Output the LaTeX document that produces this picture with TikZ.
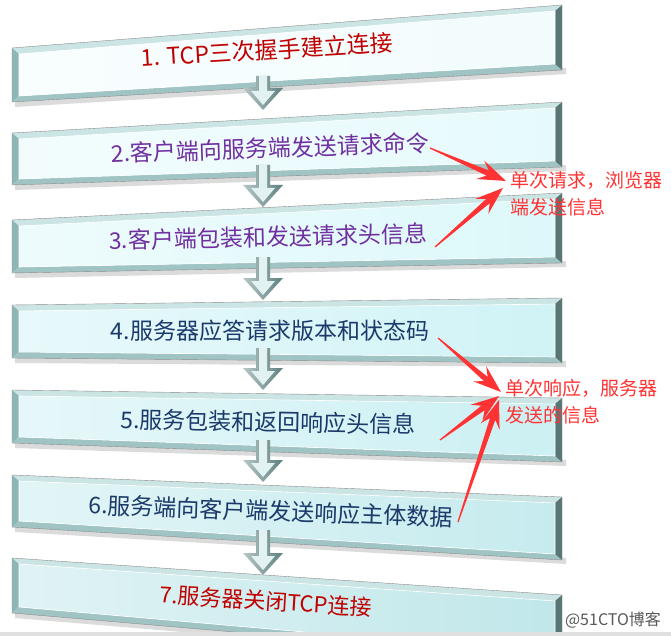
\documentclass[tikz,border=0pt]{standalone}
\usepackage{fontspec}
\newfontfamily\zh{Noto Sans CJK SC}
\usetikzlibrary{calc}

\definecolor{stepred}{HTML}{C00000}
\definecolor{steppurple}{HTML}{7030A0}
\definecolor{stepblue}{HTML}{1B3A6B}
\definecolor{annored}{HTML}{FF3333}
\definecolor{face1}{HTML}{F2FCFD}
\definecolor{face2}{HTML}{E6FAFC}
\definecolor{face3}{HTML}{DDF8FA}
\definecolor{face4}{HTML}{D0F3F6}
\definecolor{face5}{HTML}{CCF0F3}
\definecolor{face6}{HTML}{C6EBEE}
\definecolor{face7}{HTML}{C1E7EA}
\definecolor{bevtop}{HTML}{CBE4E4}
\definecolor{bevleft}{HTML}{8FB6B6}
\definecolor{bevbot}{HTML}{A0C4C4}
\definecolor{bevright}{HTML}{587676}
\definecolor{arrlight}{HTML}{E2F1F1}
\definecolor{arrdark}{HTML}{5E8080}

\tikzset{
  stagetext/.style={inner sep=0pt},
  note/.style={font=\zh\fontsize{19}{27}\selectfont, text=annored, align=left, inner sep=0pt},
  boxline/.style={draw=black!45, line width=0.4pt},
}

% tapered red pointer, tail -> tip
\newcommand{\taper}[2]{%
  \path ($(#2)!28pt!(#1)$) coordinate (hbx) ($(#2)!20pt!(#1)$) coordinate (hnx);
  \fill[annored] ($(#1)!0.6pt!90:(#2)$) -- ($(hnx)!2.8pt!-90:(#1)$) -- ($(hbx)!10pt!-90:(#1)$) -- (#2)
    -- ($(hbx)!10pt!90:(#1)$) -- ($(hnx)!2.8pt!90:(#1)$) -- ($(#1)!0.6pt!-90:(#2)$) -- cycle;
}

\begin{document}
\begin{tikzpicture}[x=1pt,y=-1pt]
    \useasboundingbox (0,0) rectangle (671,636);
    \fill[white] (0,0) rectangle (671,636);

    % Boxes
    \foreach \tl/\tr/\br/\bl/\n in {48/5/70/102/1, 133/102/167/185/2, 220/193/263/273/3, 305/298/363/358/4, 390/398/462/443/5, 475/497/560/527/6, 558/595/660/613/7} {
        \fill[black!40, opacity=0.35] (15,\bl-2) -- (566,\br-2) -- (566,\br+4) -- (15,\bl+5) -- cycle;
        \fill[bevtop] (12,\tl) -- (562,\tr) -- (555,\tr+6) -- (19,\tl+6) -- cycle;
        \fill[bevleft] (12,\tl) -- (19,\tl+6) -- (19,\bl-6) -- (12,\bl) -- cycle;
        \fill[bevbot] (12,\bl) -- (19,\bl-6) -- (555,\br-6) -- (562,\br) -- cycle;
        \fill[bevright] (562,\tr) -- (562,\br) -- (555,\br-6) -- (555,\tr+6) -- cycle;
        \shade[left color=face\n!50!white, right color=face\n] (19,\tl+6) -- (555,\tr+6) -- (555,\br-6) -- (19,\bl-6) -- cycle;
        \draw[white, line width=0.6pt] (19,\tl+6) -- (555,\tr+6) -- (555,\br-6) -- (19,\bl-6) -- cycle;
        \draw[boxline] (12,\tl) -- (562,\tr) -- (562,\br) -- (12,\bl) -- cycle;
    }

    % Down arrows
    \foreach \ys/\yt in {76/110, 165/207, 257/300, 348/390, 440/482, 530/575} {
        \shade[left color=arrdark!45!white, right color=arrdark] (256,\ys) -- (270,\ys) -- (270,\yt-22) -- (283,\yt-22) -- (263,\yt) -- (243,\yt-22) -- (256,\yt-22) -- cycle;
        \fill[arrlight] (259,\ys) -- (267,\ys) -- (267,\yt-19) -- (275,\yt-19) -- (263,\yt-5) -- (251,\yt-19) -- (259,\yt-19) -- cycle;
    }

    % Stage texts
    \foreach \i/\x/\y/\rot/\col/\fs/\txt in {
        1/267/50/3.5/stepred/23/{1. TCP三次握手建立连接},
        2/270/148/2/steppurple/23/{2.客户端向服务端发送请求命令},
        3/268/237/1.2/steppurple/23/{3.客户端包装和发送请求头信息},
        4/270/331/0/stepblue/23/{4.服务器应答请求版本和状态码},
        5/268/422/-1/stepblue/23/{5.服务包装和返回响应头信息},
        6/271/511/-2/stepblue/23/{6.服务端向客户端发送响应主体数据},
        7/266/601/-3.5/stepred/22/{7.服务器关闭TCP连接}} {
        \node[stagetext, rotate=\rot, text=\col, font=\zh\fontsize{\fs}{\fs}\selectfont] (s\i) at (\x,\y) {\txt};
    }

    % Notes
    \node[note, anchor=west] (req) at (510,193.5) {单次请求，浏览器\\端发送信息};
    \node[note, anchor=west] (resp) at (505,401.5) {单次响应，服务器\\发送的信息};

    % Pointers
    \coordinate (tA1) at (430,148);
    \coordinate (tA2) at (435,247);
    \coordinate (tB1) at (438,338);
    \coordinate (tB2) at (440,440);
    \coordinate (tB3) at (458,522);
    \coordinate (hA1) at ([shift={(-4,-12.5)}]req.west);
    \coordinate (hA2) at ([shift={(-7,-5.5)}]req.west);
    \coordinate (hB1) at ([shift={(-4,-9.5)}]resp.west);
    \coordinate (hB2) at ([shift={(-6,-5.5)}]resp.west);
    \coordinate (hB3) at ([shift={(-6,-1.5)}]resp.west);
    \taper{tA1}{hA1}
    \taper{tA2}{hA2}
    \taper{tB1}{hB1}
    \taper{tB2}{hB2}
    \taper{tB3}{hB3}

    % Footer
    \fill[black!12] (0,632) rectangle (671,636);
    \node[font=\zh\fontsize{16}{16}\selectfont, text=black!65] (wm) at (613,620) {@51CTO博客};
\end{tikzpicture}
\end{document}
